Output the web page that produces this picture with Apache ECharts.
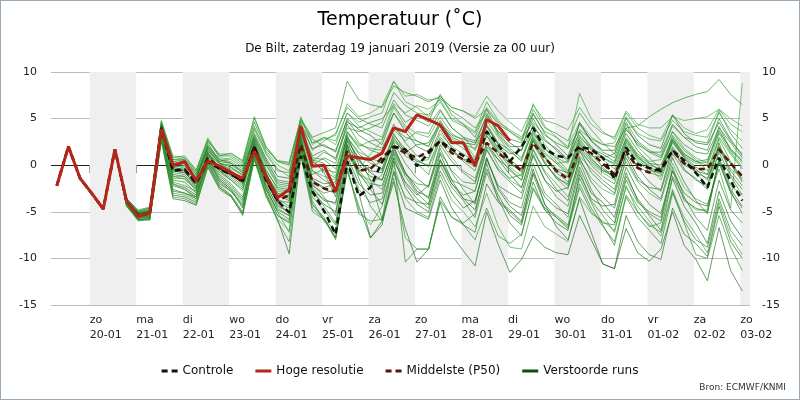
<!DOCTYPE html>
<html>
<head>
<meta charset="utf-8">
<title>Temperatuur De Bilt</title>
<script src="https://cdn.jsdelivr.net/npm/echarts@6/dist/echarts.min.js"></script>
<style>
  html, body { margin: 0; padding: 0; background: #fff; }
  #main { width: 798px; height: 398px; border: 1px solid #9aa9b6; }
</style>
</head>
<body>
<div id="main"></div>
<script>
// tijdas: eerste punt 19-01 07u, daarna elke 6 uur (uren sinds 19-01 00u)
var startHour = 7;
var stepHours = 6;

// dagtikken
var dayNames = ['zo', 'ma', 'di', 'wo', 'do', 'vr', 'za', 'zo', 'ma', 'di', 'wo', 'do', 'vr', 'za', 'zo'];
var dayDates = ['20-01', '21-01', '22-01', '23-01', '24-01', '25-01', '26-01', '27-01', '28-01', '29-01', '30-01', '31-01', '01-02', '02-02', '03-02'];

// hoge resolutie (10 dagen)
var hoogRes = [-2.2, 2.0, -1.4, -3.0, -4.7, 1.7, -3.8, -5.5, -5.1, 3.9, 0.0, 0.4, -1.7, 0.4, -0.1, -0.8,
  -1.4, 1.5, -1.2, -3.5, -2.6, 4.2, -0.1, 0.0, -2.8, 1.0, 0.8, 0.6, 1.3, 4.0, 3.6, 5.4,
  4.9, 4.3, 2.4, 2.4, -0.1, 4.9, 4.2, 2.6];

// controle run
var controle = [-2.2, 2.0, -1.4, -3.0, -4.7, 1.7, -3.8, -5.5, -5.1, 4.0, -0.6, -0.4, -1.9, 0.4, -0.4, -1.0,
  -1.7, 2.0, -1.6, -3.8, -5.1, 1.0, -2.8, -4.9, -7.4, 0.4, -3.3, -2.4, 0.4, 2.0, 1.7, -0.1,
  1.3, 2.6, 1.7, 1.0, 0.2, 3.6, 2.2, 0.4, 2.0, 4.0, 1.8, 1.0, 0.8, 2.0, 1.7, 0.8,
  -1.5, 1.9, 0.1, -0.3, -0.6, 1.6, 0.5, -0.8, -2.4, 0.8, -1.7, -3.8];

// middelste (P50)
var middelste = [-2.2, 2.0, -1.4, -3.0, -4.7, 1.7, -3.9, -5.3, -5.2, 4.0, -0.6, -0.5, -2.0, 0.8, -0.3, -0.9,
  -1.8, 2.0, -1.4, -3.8, -3.2, 2.2, -1.8, -2.5, -2.8, 1.5, -0.6, -0.4, 0.8, 2.0, 1.3, 0.8,
  1.5, 2.6, 1.3, 0.6, 0.2, 2.4, 1.3, 0.4, -0.6, 2.4, 0.8, -0.6, -1.5, 1.8, 1.3, 0.2,
  -1.0, 1.5, -0.3, -0.8, -0.3, 1.5, 0.2, -0.4, -0.4, 1.7, 0.2, -1.2];

// verstoorde runs
var run01 = [-2.2, 2.0, -1.4, -3.0, -4.7, 1.7, -3.6, -5.0, -4.6, 4.8, 0.8, 1.0, -0.5, 2.9, 1.0, 1.3, 0.5, 5.2, 2.0, 0.5, 0.3, 5.0, 3.0, 3.5, 4.0, 9.0, 7.0, 6.5, 6.2, 8.5, 7.8, 7.4, 6.8, 7.4, 6.2, 5.8, 5.0, 6.0, 4.4, 3.6, 2.8, 4.6, 3.2, 2.4, 1.8, 3.8, 2.8, 2.2, 2.0, 4.0, 4.2, 5.2, 6.0, 6.7, 7.2, 7.6, 7.9, 9.2, 7.6, 6.5];
var run02 = [-2.2, 2.0, -1.4, -3.0, -4.7, 1.7, -4.2, -5.8, -5.9, 2.6, -3.6, -3.8, -4.3, -0.2, -2.4, -3.3, -5.4, 0.6, -3.2, -5.8, -9.5, 1.2, -4.6, -5.8, -7.8, -0.6, -4.4, -7.8, -6.0, -1.8, -6.8, -10.4, -9.0, -4.0, -7.5, -9.2, -10.8, -5.0, -8.5, -11.5, -10.1, -7.6, -8.8, -9.4, -9.6, -5.4, -8.0, -10.6, -11.1, -6.8, -9.4, -10.3, -9.0, -5.0, -8.6, -10.1, -12.4, -6.7, -11.3, -13.5];
var run03 = [-2.2, 2.0, -1.4, -3.0, -4.7, 1.7, -3.9, -5.4, -5.3, 3.8, -1.2, -1.5, -2.6, 0.4, -0.8, -1.6, -2.8, 1.6, -2.4, -5.0, -7.2, 1.8, -2.8, -3.6, -4.2, 1.6, -1.0, -2.2, -1.0, 2.8, 1.6, 0.4, 0.6, 3.4, 2.0, 1.2, 0.4, 3.6, 1.4, -0.2, -1.2, 2.6, 0.4, -1.4, -2.6, 1.4, 0.2, -0.8, -1.6, 2.2, 0.6, -0.4, -1.0, 2.6, 1.0, 0.2, 0.4, 3.8, 1.6, 0.2];
var run04 = [-2.2, 2.0, -1.4, -3.0, -4.7, 1.7, -4.0, -5.6, -5.4, 4.2, -0.2, -0.6, -2.4, 1.0, -0.4, -1.2, -2.2, 2.4, -1.0, -3.4, -3.2, 3.0, -2.0, -3.4, -5.4, 2.6, 0.8, -1.6, -5.8, 0.8, -10.4, -9.0, -9.0, -3.4, -5.6, -6.2, -5.2, 0.2, -3.8, -4.8, -6.0, -1.0, -4.2, -5.6, -6.8, -2.4, -5.0, -6.2, -6.4, -1.6, -4.0, -5.0, -5.6, -0.6, -3.8, -4.6, -5.0, 0.4, -3.0, -4.6];
var run05 = [-2.2, 2.0, -1.4, -3.0, -4.7, 1.7, -3.7, -5.2, -5.0, 4.4, 0.4, 0.2, -1.0, 2.2, 0.6, 0.4, -0.4, 3.8, 1.2, -0.6, -0.8, 4.6, 1.6, 2.6, 3.4, 6.2, 5.0, 4.4, 4.0, 7.0, 5.4, 4.8, 4.2, 6.0, 4.0, 3.0, 2.6, 5.2, 3.6, 2.8, 2.4, 6.0, 4.0, 3.4, 2.6, 5.6, 3.8, 2.4, 1.2, 4.6, 2.6, 1.6, 1.0, 4.2, 3.0, 2.6, 2.4, 5.8, 3.4, 1.8];
var run06 = [-2.2, 2.0, -1.4, -3.0, -4.7, 1.7, -4.3, -5.7, -5.6, 3.0, -2.6, -3.0, -3.6, 0.8, -1.6, -2.6, -4.6, 1.4, -2.2, -4.4, -5.0, 2.4, -1.4, -2.0, -1.8, 2.8, 0.6, -0.8, -1.6, 1.8, -0.8, -2.4, -3.6, 0.6, -2.0, -3.6, -4.8, -0.4, -3.2, -5.4, -6.4, -1.8, -4.8, -6.2, -7.0, -1.0, -3.6, -4.4, -4.2, 0.8, -1.6, -2.4, -2.6, 1.8, -0.4, -1.6, -2.2, 2.4, -1.0, -2.6];
var run07 = [-2.2, 2.0, -1.4, -3.0, -4.7, 1.7, -3.8, -5.1, -4.9, 4.5, 0.2, 0.4, -1.4, 1.8, 0.2, -0.2, -1.2, 3.0, 0.2, -2.2, -2.4, 3.8, -0.6, -1.2, -1.6, 3.4, 2.0, 2.6, 2.8, 5.6, 4.0, 2.6, 2.0, 4.4, 2.8, 2.2, 1.8, 4.8, 3.0, 1.4, 0.6, 4.4, 2.2, 0.8, 0.2, 3.2, 1.6, 0.6, -0.4, 3.0, 1.2, 0.4, 0.6, 3.6, 1.8, 0.8, 0.2, 4.2, 1.6, 0.6];
var run08 = [-2.2, 2.0, -1.4, -3.0, -4.7, 1.7, -4.1, -5.5, -5.2, 3.6, -1.6, -1.8, -3.0, 0.6, -1.0, -2.0, -3.4, 1.2, -1.8, -4.0, -4.6, 2.6, -2.2, -3.0, -2.6, 2.2, -1.4, -4.4, -6.0, -0.6, -3.4, -4.0, -4.2, 0.6, -1.6, -2.2, -2.8, 1.8, -0.6, -1.8, -3.0, 1.2, -1.6, -3.4, -4.4, 0.4, -2.6, -4.8, -6.2, -1.2, -3.6, -5.2, -6.0, -0.2, -3.4, -5.6, -7.0, -1.6, -4.8, -6.2];
var run09 = [-2.2, 2.0, -1.4, -3.0, -4.7, 1.7, -3.6, -4.9, -4.6, 4.0, -0.4, -0.6, -1.8, 1.4, 0.0, -0.4, -1.0, 2.8, -0.4, -2.6, -2.8, 3.2, 0.4, 1.4, 0.8, 4.0, 3.6, 4.0, 4.6, 7.8, 6.4, 5.6, 5.4, 7.2, 5.8, 5.0, 4.0, 5.6, 3.2, 1.8, 0.8, 3.6, 1.4, 0.2, -1.0, 2.4, 0.6, -0.4, -1.4, 2.0, 0.4, -0.6, -0.8, 2.4, 0.8, -0.4, -1.6, 2.0, 0.2, -1.2];
var run10 = [-2.2, 2.0, -1.4, -3.0, -4.7, 1.7, -4.4, -5.9, -5.8, 2.8, -3.2, -3.4, -4.0, 0.2, -2.2, -3.2, -5.0, 0.8, -3.0, -5.4, -6.2, 1.6, -4.2, -5.6, -7.8, 0.4, -3.0, -7.8, -6.4, -0.8, -4.6, -5.2, -5.8, -1.6, -4.6, -6.4, -7.2, -2.0, -4.0, -5.0, -6.2, -0.8, -3.4, -4.6, -5.2, -0.2, -3.0, -4.0, -5.6, -0.8, -3.8, -5.4, -7.0, -1.4, -4.4, -6.2, -8.4, -2.8, -6.0, -7.8];
var run11 = [-2.2, 2.0, -1.4, -3.0, -4.7, 1.7, -3.8, -5.3, -5.1, 4.1, 0.0, 0.2, -1.6, 2.4, 0.4, 0.8, 0.0, 4.0, 1.6, 0.0, -0.6, 4.4, 2.4, 3.0, 2.2, 5.6, 4.6, 5.2, 5.6, 9.0, 6.8, 6.2, 5.2, 6.8, 4.8, 4.2, 3.4, 6.2, 4.6, 3.8, 3.0, 5.4, 3.6, 3.0, 2.0, 4.6, 3.0, 2.2, 2.4, 5.2, 3.4, 2.8, 2.6, 4.8, 3.6, 3.2, 3.0, 5.6, 3.8, 2.6];
var run12 = [-2.2, 2.0, -1.4, -3.0, -4.7, 1.7, -4.0, -5.4, -5.3, 3.9, -0.8, -1.0, -2.2, 0.8, -0.6, -1.0, -1.8, 2.0, -1.4, -3.8, -4.0, 2.8, -1.6, -2.6, -3.0, 1.8, -0.6, -0.2, 0.4, 2.4, 0.2, -1.4, -2.4, 1.4, -0.6, -1.8, -2.0, 2.0, 0.6, -0.4, -1.6, 2.2, 0.2, -1.2, -2.2, 1.0, -0.4, -1.6, -2.6, 1.2, -0.2, -0.8, -1.2, 1.6, 0.0, -0.6, -1.0, 2.0, -0.6, -2.2];
var run13 = [-2.2, 2.0, -1.4, -3.0, -4.7, 1.7, -3.7, -5.0, -4.8, 4.3, -0.2, -0.2, -1.2, 1.6, 0.2, -0.6, -1.4, 2.4, -0.8, -3.0, -3.6, 3.6, 0.0, 0.8, 0.2, 4.4, 2.4, 1.6, 1.2, 3.8, 2.6, 3.6, 3.4, 5.8, 4.0, 3.0, 1.6, 4.2, 2.2, 0.4, -0.8, 2.8, 0.8, -0.8, -1.8, 2.2, 1.0, 0.8, 1.2, 4.4, 2.0, 0.8, -0.4, 3.2, 1.6, 0.6, -0.6, 3.0, 1.2, -0.4];
var run14 = [-2.2, 2.0, -1.4, -3.0, -4.7, 1.7, -4.2, -5.8, -5.7, 3.2, -2.2, -2.6, -3.4, 0.4, -1.8, -2.8, -4.2, 1.0, -2.6, -4.8, -5.4, 2.2, -3.0, -4.2, -5.0, 1.0, -2.0, -3.2, -3.0, 0.8, -2.4, -4.2, -5.0, -0.6, -3.0, -4.6, -3.8, 0.6, -2.2, -3.0, -3.6, 1.0, -1.6, -2.8, -2.4, 1.6, -0.8, -2.0, -3.0, 1.2, -1.2, -2.6, -3.6, 0.8, -1.8, -3.8, -5.2, 0.6, -2.6, -4.4];
var run15 = [-2.2, 2.0, -1.4, -3.0, -4.7, 1.7, -3.9, -5.3, -5.2, 3.5, -1.2, -1.2, -2.8, 1.2, -0.2, -0.8, -2.0, 1.8, -1.0, -2.8, -3.0, 3.4, 0.6, 0.2, -1.2, 3.0, 1.4, 0.8, 0.2, 3.2, 1.8, 0.6, -0.2, 2.6, 0.8, -0.6, -1.4, 2.4, 0.0, -1.6, -2.4, 1.8, -0.6, -2.0, -3.4, 0.6, -1.4, -2.6, -3.2, 0.4, -1.8, -3.0, -3.8, 0.2, -2.4, -3.6, -4.2, -0.4, -4.6, 8.8];
var run16 = [-2.2, 2.0, -1.4, -3.0, -4.7, 1.7, -3.6, -4.8, -4.5, 4.6, 0.6, 0.6, -0.8, 2.6, 1.0, 1.0, 0.2, 4.6, 1.8, 0.4, 0.0, 4.8, 2.8, 2.0, 1.6, 4.8, 3.2, 2.4, 1.8, 4.4, 2.4, 1.0, 0.8, 3.8, 1.8, 0.4, -0.6, 3.2, 1.0, -0.6, -1.6, 2.8, 0.8, -0.4, -0.8, 3.0, 1.8, 1.2, 0.4, 3.8, 2.4, 1.4, 1.4, 4.4, 3.0, 2.0, 1.6, 5.0, 2.8, 1.0];
var run17 = [-2.2, 2.0, -1.4, -3.0, -4.7, 1.7, -4.1, -5.6, -5.5, 3.4, -1.8, -2.2, -2.8, 0.6, -1.2, -2.2, -3.6, 1.4, -2.0, -4.6, -5.4, 2.0, -2.6, -4.4, -6.2, 1.2, -1.0, -1.6, -2.6, 1.6, -1.0, -2.0, -2.2, 1.8, -0.8, -2.6, -4.2, 0.8, -2.4, -4.0, -4.6, 0.2, -3.0, -4.2, -5.6, -0.6, -3.8, -5.4, -7.2, -2.2, -5.0, -6.6, -6.2, -1.2, -3.6, -4.8, -4.8, 0.8, -2.2, -3.2];
var run18 = [-2.2, 2.0, -1.4, -3.0, -4.7, 1.7, -3.8, -5.2, -5.0, 4.2, -0.6, -0.8, -2.0, 1.2, -0.2, -0.6, -1.6, 2.2, -0.6, -2.4, -2.6, 3.6, 0.6, -0.8, -3.4, 2.2, 0.4, -0.6, -0.8, 2.6, 1.4, 2.2, 2.4, 4.6, 3.2, 2.8, 2.4, 4.2, 2.2, 1.2, 1.6, 4.2, 2.6, 1.8, 0.6, 3.6, 2.0, 0.8, 0.2, 3.4, 1.6, 0.2, -0.6, 2.6, 0.8, -0.8, -1.4, 1.8, 0.2, -1.8];
var run19 = [-2.2, 2.0, -1.4, -3.0, -4.7, 1.7, -4.3, -6.0, -5.8, 2.9, -3.0, -3.2, -3.8, 0.0, -2.4, -3.4, -5.2, 0.6, -3.4, -5.8, -7.0, 1.4, -3.8, -6.0, -7.4, -0.6, -4.8, -6.4, -4.4, 0.0, -3.6, -5.0, -5.6, -1.0, -3.8, -5.0, -6.6, -3.0, -6.6, -8.8, -9.0, -4.4, -6.6, -7.4, -8.2, -3.4, -5.2, -6.0, -7.0, -2.4, -4.4, -6.0, -7.6, -2.8, -5.6, -7.4, -9.4, -4.0, -7.6, -9.6];
var run20 = [-2.2, 2.0, -1.4, -3.0, -4.7, 1.7, -3.7, -5.1, -4.9, 4.4, 0.4, 0.6, -1.0, 2.0, 0.6, 0.2, -0.8, 3.2, 0.6, -1.6, -1.8, 4.0, 1.0, 1.6, 0.6, 4.6, 4.0, 4.6, 5.0, 6.4, 4.6, 5.4, 4.6, 7.6, 5.4, 4.4, 3.0, 6.0, 3.4, 2.0, 2.0, 5.0, 2.8, 1.6, 0.4, 4.6, 2.6, 1.4, 0.8, 4.0, 2.2, 1.4, 0.8, 3.6, 2.2, 1.4, 1.2, 4.0, 2.4, 0.8];
var run21 = [-2.2, 2.0, -1.4, -3.0, -4.7, 1.7, -4.0, -5.5, -5.4, 3.7, -1.4, -1.4, -2.6, 1.0, -0.6, -1.4, -2.4, 2.0, -1.2, -3.6, -4.4, 2.6, -1.0, -0.4, -0.8, 3.6, 1.8, 0.6, -0.6, 3.0, 1.0, 0.2, -1.0, 2.8, 1.4, 0.6, -0.2, 3.2, 1.4, 0.2, -0.6, 3.4, 1.8, 0.8, -0.6, 2.8, 1.2, -0.2, -1.4, 2.6, 0.8, -0.2, -0.8, 2.8, 1.0, -0.2, -1.0, 2.8, 0.4, -1.6];
var run22 = [-2.2, 2.0, -1.4, -3.0, -4.7, 1.7, -3.9, -5.4, -5.2, 3.8, -1.0, -1.2, -2.4, 1.4, -0.4, -1.0, -2.0, 2.6, -0.8, -3.2, -3.8, 3.0, -1.6, -2.4, -2.0, 3.2, 0.0, -1.2, -1.6, 2.0, -0.8, -2.8, -3.4, 1.2, -1.6, -3.6, -4.0, 0.8, -2.6, -4.4, -5.4, -0.4, -4.2, -6.6, -8.0, -3.6, -7.2, -10.6, -11.1, -5.4, -8.2, -9.6, -10.1, -4.6, -7.4, -8.4, -9.8, -4.4, -8.2, -10.0];
var run23 = [-2.2, 2.0, -1.4, -3.0, -4.7, 1.7, -3.6, -5.0, -4.7, 4.7, 1.0, 0.8, -0.6, 2.8, 0.8, 0.6, -0.2, 4.2, 1.4, -0.4, -1.2, 5.2, 2.2, 3.0, 2.6, 5.6, 4.2, 3.6, 3.0, 6.6, 5.6, 6.4, 6.0, 7.0, 5.0, 4.4, 3.6, 6.8, 4.8, 3.6, 2.6, 6.6, 4.2, 3.0, 1.8, 7.7, 5.0, 3.6, 2.8, 5.6, 4.0, 3.2, 2.8, 5.4, 4.0, 3.4, 3.8, 6.0, 4.4, 3.6];
var run24 = [-2.2, 2.0, -1.4, -3.0, -4.7, 1.7, -4.2, -5.7, -5.6, 3.1, -2.8, -3.0, -3.4, 0.2, -2.0, -2.8, -4.4, 1.2, -2.4, -5.0, -5.8, 1.8, -3.4, -4.8, -6.4, 0.6, -2.6, -4.0, -3.6, 1.2, -2.0, -3.6, -4.6, 0.0, -2.4, -3.8, -5.6, -0.8, -3.6, -6.2, -7.6, -2.4, -4.6, -5.4, -6.4, -1.4, -4.0, -6.4, -8.6, -3.4, -5.6, -7.0, -8.4, -3.0, -6.0, -8.0, -8.8, -3.6, -7.0, -8.6];
var run25 = [-2.2, 2.0, -1.4, -3.0, -4.7, 1.7, -3.8, -5.3, -5.1, 4.0, -0.4, -0.4, -1.6, 1.6, 0.2, -0.2, -1.0, 2.8, 0.0, -2.0, -2.2, 3.8, 0.8, 0.6, -0.4, 3.6, 2.2, 1.8, 1.6, 4.0, 3.0, 2.6, 2.0, 4.8, 2.6, 1.8, 0.6, 4.4, 2.4, 1.6, 0.4, 3.8, 1.8, 0.4, -0.8, 2.6, 0.8, -0.6, -1.2, 2.4, 0.8, 0.0, -0.4, 2.8, 1.2, 0.4, 0.0, 3.4, 1.4, -0.2];
var run26 = [-2.2, 2.0, -1.4, -3.0, -4.7, 1.7, -4.1, -5.6, -5.5, 3.3, -2.0, -2.4, -3.2, 0.4, -1.4, -2.4, -3.8, 1.4, -1.6, -4.2, -5.0, 2.4, -2.4, -3.8, -4.0, 2.0, -0.8, -2.6, -4.2, 0.4, -1.8, -3.2, -2.2, 2.2, 0.4, -0.8, -1.8, 2.4, 0.6, -1.0, -2.4, 1.6, -0.8, -2.6, -3.8, 0.8, -1.8, -3.4, -4.6, -0.2, -2.6, -4.2, -5.2, -0.6, -3.0, -4.0, -4.4, 0.2, -2.8, -5.2];
var run27 = [-2.2, 2.0, -1.4, -3.0, -4.7, 1.7, -3.7, -5.0, -4.8, 4.5, 0.6, 0.8, -0.6, 2.6, 1.2, 1.2, 0.4, 5.0, 2.0, 0.4, 0.2, 5.0, 2.4, 2.8, 3.2, 6.6, 5.2, 5.6, 6.4, 9.0, 7.4, 7.6, 7.0, 7.2, 6.2, 5.8, 5.2, 7.4, 5.8, 4.6, 3.6, 6.4, 4.8, 4.4, 3.8, 6.2, 4.4, 3.4, 3.0, 5.8, 4.4, 4.0, 4.0, 5.2, 4.8, 5.0, 5.2, 6.0, 5.0, 4.2];
var run28 = [-2.2, 2.0, -1.4, -3.0, -4.7, 1.7, -3.9, -5.2, -5.0, 3.9, -0.6, -0.8, -2.0, 1.2, -0.6, -1.6, -2.6, 2.0, -1.2, -3.0, -3.4, 3.2, -0.6, -1.6, -2.4, 2.6, -0.6, -2.0, -2.2, 1.4, -1.2, -3.0, -4.2, 0.4, -2.0, -3.2, -2.8, 1.6, -0.4, -1.4, -1.0, 2.6, 0.2, -1.4, -2.0, 1.8, 0.0, -1.2, -2.0, 1.8, -0.2, -1.8, -2.8, 1.2, -0.6, -1.4, -2.6, 1.4, -1.2, -3.2];
var run29 = [-2.2, 2.0, -1.4, -3.0, -4.7, 1.7, -4.4, -5.9, -5.8, 2.7, -3.4, -3.6, -4.2, -0.2, -2.6, -3.4, -5.2, 0.8, -3.0, -6.0, -8.2, 1.0, -5.0, -5.8, -8.0, -0.2, -5.2, -6.0, -5.8, -1.4, -7.8, -9.0, -9.0, -3.8, -5.6, -6.4, -8.0, -4.6, -7.6, -8.4, -7.4, -2.6, -4.8, -5.6, -6.6, -2.0, -4.6, -6.6, -8.2, -3.2, -5.0, -6.4, -7.2, -2.6, -6.2, -9.6, -10.0, -5.4, -8.8, -11.3];
var run30 = [-2.2, 2.0, -1.4, -3.0, -4.7, 1.7, -3.8, -5.2, -5.0, 4.3, 0.2, 0.0, -1.4, 2.0, 0.4, 0.2, -0.6, 3.4, 0.8, -1.2, -1.4, 4.2, 1.8, 2.2, 1.4, 5.0, 3.8, 3.2, 2.2, 5.6, 3.6, 2.0, 1.4, 4.4, 3.0, 2.4, 2.2, 5.4, 3.6, 2.4, 1.6, 5.6, 3.4, 2.2, 1.0, 4.4, 2.6, 1.6, 1.6, 5.0, 3.2, 2.2, 1.8, 5.4, 3.4, 2.4, 2.2, 4.6, 2.6, 1.2];
var run31 = [-2.2, 2.0, -1.4, -3.0, -4.7, 1.7, -4.2, -5.6, -5.5, 3.4, -2.0, -2.6, -3.6, 0.6, -1.6, -2.6, -4.0, 1.6, -2.6, -5.4, -6.0, 2.2, -4.2, -5.8, -7.0, 1.6, -0.4, 1.2, 2.6, 6.2, 4.2, 3.4, 3.0, 5.2, 3.4, 2.6, 0.8, 3.8, 1.6, 0.0, -0.4, 3.2, 1.2, 0.2, 0.4, 3.6, 1.8, 0.8, 0.0, 2.8, 1.0, -0.2, -1.6, 2.0, 0.4, -0.8, -2.2, 1.6, -0.4, -1.4];
var run32 = [-2.2, 2.0, -1.4, -3.0, -4.7, 1.7, -3.7, -5.1, -4.9, 4.2, -0.2, 0.0, -1.4, 1.8, 0.2, 0.0, -0.8, 3.0, 0.4, -1.8, -2.0, 3.6, 0.4, -0.6, -1.4, 3.0, 1.2, 0.2, -0.4, 3.4, 1.4, 0.4, 0.0, 3.0, 1.6, 0.6, 0.6, 3.8, 1.8, 0.6, -0.4, 3.0, 1.0, -0.6, -1.2, 2.0, 0.4, -0.6, -0.8, 2.8, 1.0, 0.2, 0.0, 3.0, 1.2, 0.4, 0.6, 3.6, 1.8, 0.4];

var runs = [run01, run02, run03, run04, run05, run06, run07, run08, run09, run10, run11, run12, run13, run14, run15, run16,
  run17, run18, run19, run20, run21, run22, run23, run24, run25, run26, run27, run28, run29, run30, run31, run32];

var fontName = 'DejaVu Sans';
var runColors = ['#2a922a', '#1d6e1d', '#3aa63a', '#268226'];

// legenda-iconen: streepjes of doorgetrokken lijn
var iconDashed = 'path://M0,0h6v3h-6zM10,0h6v3h-6z';
var iconSolid = 'path://M0,0h16v3h-16z';

function toPoints(values) {
  return values.map(function (v, i) {
    return [startHour + i * stepHours, v];
  });
}

var tickHours = dayDates.map(function (d, k) { return 24 * (k + 1); });

// grijze banden op de even dagen
var bands = [];
for (var k = 0; k < tickHours.length; k += 2) {
  bands.push([{ xAxis: tickHours[k] }, { xAxis: Math.min(tickHours[k] + 24, 365) }]);
}

var series = [];
runs.forEach(function (run, idx) {
  var s = {
    name: 'Verstoorde runs',
    type: 'line',
    data: toPoints(run),
    symbol: 'none',
    silent: true,
    z: 2,
    lineStyle: { width: 0.8, color: runColors[idx % runColors.length], opacity: 0.85 },
    itemStyle: { color: '#0e4f0e' }
  };
  if (idx === 0) {
    s.markArea = { silent: true, itemStyle: { color: '#efefef' }, data: bands };
  }
  series.push(s);
});
series.push({
  name: 'Middelste (P50)', type: 'line', data: toPoints(middelste), symbol: 'none', z: 4,
  lineStyle: { width: 2.5, color: '#5a1408', type: [6, 4] }, itemStyle: { color: '#5a1408' }
});
series.push({
  name: 'Controle', type: 'line', data: toPoints(controle), symbol: 'none', z: 5,
  lineStyle: { width: 2.5, color: '#111', type: [6, 4] }, itemStyle: { color: '#111' }
});
series.push({
  name: 'Hoge resolutie', type: 'line', data: toPoints(hoogRes), symbol: 'none', z: 6,
  lineStyle: { width: 3, color: '#b5261a' }, itemStyle: { color: '#b5261a' }
});

var yAxisBase = {
  type: 'value', min: -15, max: 10, interval: 5,
  axisLine: { show: false }, axisTick: { show: false },
  axisLabel: { color: '#222', fontSize: 11, fontFamily: fontName }
};

var myChart = echarts.init(document.getElementById('main'), null, { renderer: 'canvas' });
var option = {
  animation: false,
  backgroundColor: '#fff',
  textStyle: { fontFamily: fontName },
  title: [
    { text: 'Temperatuur (˚C)', left: 'center', top: 5,
      textStyle: { fontSize: 19, fontWeight: 'normal', color: '#000', fontFamily: fontName } },
    { text: 'De Bilt, zaterdag 19 januari 2019 (Versie za 00 uur)', left: 'center', top: 37,
      textStyle: { fontSize: 12, fontWeight: 'normal', color: '#111', fontFamily: fontName } },
    { text: 'Bron: ECMWF/KNMI', right: 8, bottom: 2,
      textStyle: { fontSize: 9, fontWeight: 'normal', color: '#333', fontFamily: fontName } }
  ],
  legend: {
    bottom: 17, left: 'center', itemGap: 22, itemWidth: 16, itemHeight: 3,
    textStyle: { fontSize: 12, color: '#111', fontFamily: fontName },
    data: [
      { name: 'Controle', icon: iconDashed, itemStyle: { color: '#111', borderWidth: 0 } },
      { name: 'Hoge resolutie', icon: iconSolid, itemStyle: { color: '#b5261a', borderWidth: 0 } },
      { name: 'Middelste (P50)', icon: iconDashed, itemStyle: { color: '#5a1408', borderWidth: 0 } },
      { name: 'Verstoorde runs', icon: iconSolid, itemStyle: { color: '#0e4f0e', borderWidth: 0 } }
    ]
  },
  grid: { left: 50, right: 49, top: 71, bottom: 94 },
  xAxis: {
    type: 'value', min: 4, max: 365,
    axisLine: { show: false },
    splitLine: { show: false },
    axisTick: { show: true, customValues: tickHours, length: 8, lineStyle: { color: '#888' } },
    axisLabel: {
      customValues: tickHours, align: 'left', margin: 8, lineHeight: 15,
      color: '#222', fontSize: 11, fontFamily: fontName,
      formatter: function (value) {
        var k = tickHours.indexOf(value);
        return k < 0 ? '' : dayNames[k] + '\n' + dayDates[k];
      }
    }
  },
  yAxis: [
    Object.assign({}, yAxisBase, {
      position: 'left',
      splitLine: { show: true, lineStyle: { color: ['#bbb', '#bbb', '#bbb', '#222', '#bbb', '#bbb'], width: 1 } },
      axisLabel: Object.assign({}, yAxisBase.axisLabel, { margin: 14 })
    }),
    Object.assign({}, yAxisBase, {
      position: 'right',
      splitLine: { show: false },
      axisLabel: Object.assign({}, yAxisBase.axisLabel, { margin: 12 })
    })
  ],
  series: series
};
myChart.setOption(option);
</script>
</body>
</html>
